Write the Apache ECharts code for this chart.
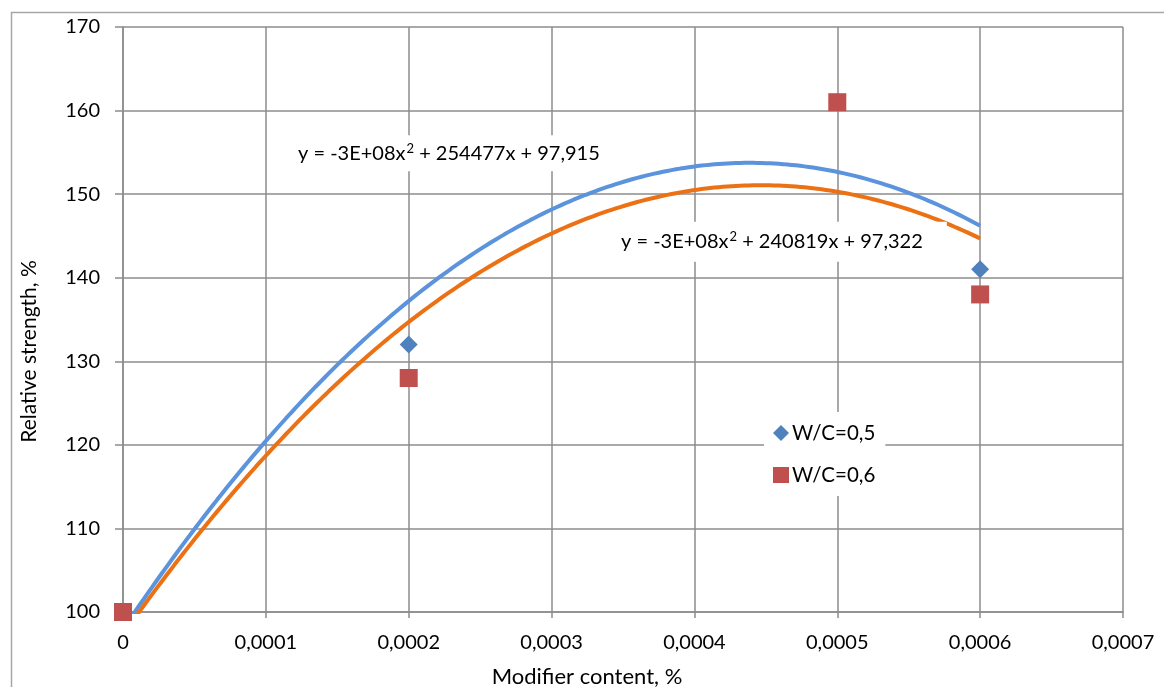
<!DOCTYPE html>
<html>
<head>
<meta charset="utf-8">
<script src="https://cdn.jsdelivr.net/npm/echarts@6/dist/echarts.min.js"></script>
<style>
html,body{margin:0;padding:0;background:#fff;}
#chart{width:1164px;height:687px;}
</style>
</head>
<body>
<div id="chart"></div>
<script>
// ---- data ----
const xValues = [0, 0.0002, 0.0005, 0.0006];
const wc05 = [100, 132, 161, 141];
const wc06 = [100, 128, 161, 138];
const seriesNames = ['W/C=0,5', 'W/C=0,6'];
const xTickLabels = ['0', '0,0001', '0,0002', '0,0003', '0,0004', '0,0005', '0,0006', '0,0007'];
const yTickLabels = ['100', '110', '120', '130', '140', '150', '160', '170'];
const eq05 = ['y = -3E+08x', '2', ' + 254477x + 97,915'];
const eq06 = ['y = -3E+08x', '2', ' + 240819x + 97,322'];

// quadratic least squares fit (like the spreadsheet's polynomial trendline)
function quadFit(xs, ys) {
  const s = 1e4; // scale for numeric stability
  let S = [0,0,0,0,0], T = [0,0,0];
  xs.forEach((x0, i) => {
    const x = x0 * s, y = ys[i];
    for (let k = 0; k < 5; k++) S[k] += Math.pow(x, k);
    for (let k = 0; k < 3; k++) T[k] += Math.pow(x, k) * y;
  });
  const M = [[S[0],S[1],S[2],T[0]],[S[1],S[2],S[3],T[1]],[S[2],S[3],S[4],T[2]]];
  for (let i = 0; i < 3; i++) {
    for (let j = i + 1; j < 3; j++) {
      const f = M[j][i] / M[i][i];
      for (let k = i; k < 4; k++) M[j][k] -= f * M[i][k];
    }
  }
  const r = [0,0,0];
  for (let i = 2; i >= 0; i--) {
    let v = M[i][3];
    for (let k = i + 1; k < 3; k++) v -= M[i][k] * r[k];
    r[i] = v / M[i][i];
  }
  return x => { const u = x * s; return r[0] + r[1] * u + r[2] * u * u; };
}
function trend(ys) {
  const f = quadFit(xValues, ys);
  const xmax = Math.max(...xValues);
  const pts = [];
  for (let i = 0; i <= 200; i++) { const x = xmax * i / 200; pts.push([x, f(x)]); }
  return pts;
}
const pairs = ys => xValues.map((x, i) => [x, ys[i]]);
const eqText = parts => '{a|' + parts[0] + '}{s|' + parts[1] + '}{a|' + parts[2] + '}';

const FONT = 'Lato';
const chart = echarts.init(document.getElementById('chart'));
const option = {
  backgroundColor: '#fff',
  animation: false,
  textStyle: { fontFamily: FONT },
  grid: { left: 123, right: 41, top: 27, bottom: 75, containLabel: false, outerBoundsMode: 'none' },
  xAxis: {
    type: 'value', min: 0, max: 0.0007, interval: 0.0001,
    name: 'Modifier content, %', nameLocation: 'middle', nameGap: 54,
    nameTextStyle: { fontSize: 22, color: '#000', fontFamily: FONT, padding: [0, 72, 0, 0] },
    axisLine: { show: true, lineStyle: { color: '#8c8c8c', width: 1.5 } },
    axisTick: { show: true, length: 6, lineStyle: { color: '#8c8c8c', width: 1.5 } },
    axisLabel: { fontSize: 20, color: '#000', margin: 21, fontFamily: FONT,
      formatter: v => xTickLabels[Math.round(v / 0.0001)] },
    splitLine: { show: true, lineStyle: { color: '#8c8c8c', width: 1.5 } }
  },
  yAxis: {
    type: 'value', min: 100, max: 170, interval: 10,
    name: 'Relative strength, %', nameLocation: 'middle', nameGap: 83, nameRotate: 90,
    nameTextStyle: { fontSize: 21, color: '#000', fontFamily: FONT, padding: [0, 64, 0, 0] },
    axisLine: { show: true, lineStyle: { color: '#8c8c8c', width: 1.5 } },
    axisTick: { show: true, length: 8, lineStyle: { color: '#8c8c8c', width: 1.5 } },
    axisLabel: { fontSize: 20, color: '#000', margin: 23, fontFamily: FONT,
      formatter: v => yTickLabels[Math.round((v - 100) / 10)] },
    splitLine: { show: true, lineStyle: { color: '#8c8c8c', width: 1.5 } }
  },
  legend: {
    data: [{ name: seriesNames[0], icon: 'diamond' }, { name: seriesNames[1], icon: 'rect' }],
    orient: 'vertical', left: 764, top: 412,
    backgroundColor: '#fff', padding: [9, 10, 9, 9],
    itemWidth: 16, itemHeight: 16, itemGap: 18, itemStyle: { borderWidth: 0 },
    textStyle: { fontSize: 20.5, color: '#000', fontFamily: FONT, lineHeight: 24, padding: [0, 0, 0, -2] }
  },
  series: [
    { name: 'trend05', type: 'line', data: trend(wc05), showSymbol: false, clip: true, z: 2,
      lineStyle: { color: '#5B93DC', width: 4 }, itemStyle: { color: '#5B93DC' }, smooth: false, silent: true },
    { name: 'trend06', type: 'line', data: trend(wc06), showSymbol: false, clip: true, z: 2,
      lineStyle: { color: '#EC7115', width: 4 }, itemStyle: { color: '#EC7115' }, smooth: false, silent: true },
    { name: seriesNames[0], type: 'scatter', data: pairs(wc05), symbol: 'diamond', symbolSize: 18, z: 4,
      itemStyle: { color: '#4F81BD', opacity: 1 } },
    { name: seriesNames[1], type: 'scatter', data: pairs(wc06), symbol: 'rect', symbolSize: 18, z: 5,
      itemStyle: { color: '#C0504D', opacity: 1 } }
  ]
};
chart.setOption(option);

// equation labels anchored in data coordinates
const p1 = chart.convertToPixel({ gridIndex: 0 }, [0.0001225, 154.9]);
const p2 = chart.convertToPixel({ gridIndex: 0 }, [0.0003486, 144.3]);
const richStyle = {
  a: { fontSize: 20, fontFamily: FONT, fill: '#000', color: '#000', lineHeight: 24, verticalAlign: 'middle' },
  s: { fontSize: 13, fontFamily: FONT, fill: '#000', color: '#000', lineHeight: 24, verticalAlign: 'top', padding: [1, 0, 0, 1] }
};
chart.setOption({
  graphic: [
    { type: 'rect', left: 9, top: 10, shape: { width: 1200, height: 700 }, z: -10,
      style: { fill: 'none', stroke: '#a6a6a6', lineWidth: 1.5 }, silent: true },
    { type: 'text', x: p1[0] - 8, y: p1[1], z: 3,
      style: { text: eqText(eq05), rich: richStyle, fontSize: 20, fontFamily: FONT, fill: '#000', backgroundColor: '#fff',
        padding: [6, 10, 6, 8], verticalAlign: 'middle', align: 'left' } },
    { type: 'text', x: p2[0] - 8, y: p2[1], z: 3,
      style: { text: eqText(eq06), rich: richStyle, fontSize: 20, fontFamily: FONT, fill: '#000', backgroundColor: '#fff',
        padding: [8, 24, 8, 8], verticalAlign: 'middle', align: 'left' } }
  ]
});
</script>
</body>
</html>
